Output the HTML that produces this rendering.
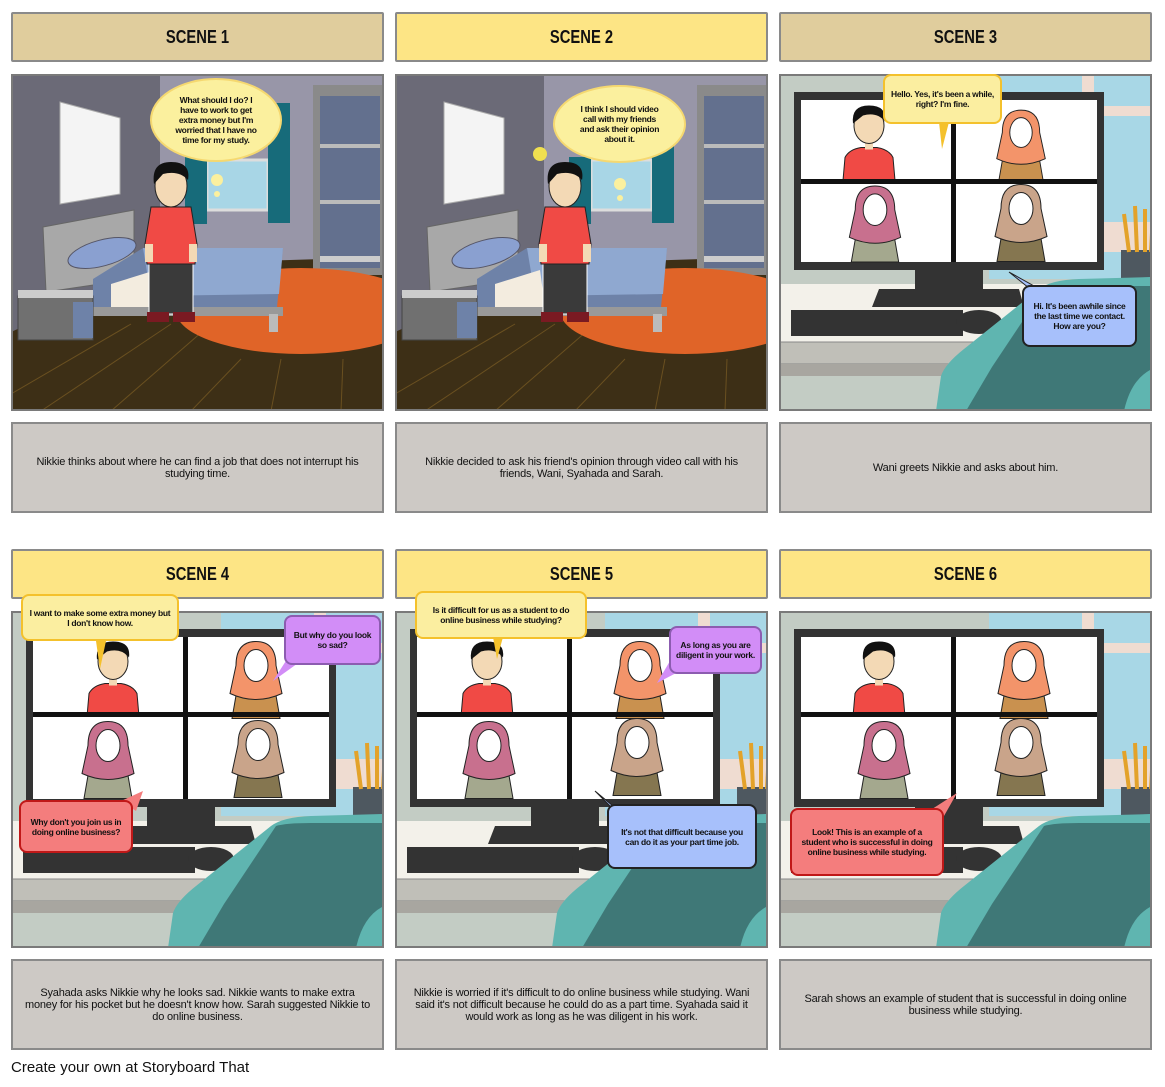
<!DOCTYPE html>
<html><head><meta charset="utf-8">
<style>
*{margin:0;padding:0;box-sizing:border-box}
body{width:1165px;height:1087px;background:#fff;position:relative;overflow:hidden;font-family:"Liberation Sans",sans-serif}
.t{position:absolute;width:373px;height:50px;border:2px solid #8a8a8a;border-radius:2px;display:flex;align-items:center;justify-content:center;font-weight:bold;font-size:18px;color:#111}
.t span{display:inline-block;transform:scaleX(.82)}
.tan{background:#e0cd9d}.yel{background:#fde585}
.p{position:absolute;width:373px;height:337px;border:2px solid #7a7a7a;overflow:hidden}
.p svg{display:block;position:absolute;left:-2px;top:-2px}
.d{position:absolute;width:373px;height:91px;border:2px solid #8a8a8a;background:#cdc9c5;display:flex;align-items:center;justify-content:center;text-align:center;padding:0 12px;font-size:11px;line-height:12px;color:#111;letter-spacing:-0.2px}
.b{position:absolute;display:flex;align-items:center;justify-content:center;text-align:center;font-weight:bold;font-size:8.5px;line-height:10px;color:#111;border-radius:8px;padding:3px 5px;letter-spacing:-0.3px}
.by{background:#fbeea0;border:2px solid #f4c12c}
.bb{background:#a7c0fb;border:2px solid #222}
.bp{background:#d28df7;border:2px solid #8c5cb0}
.br{background:#f47d7d;border:2px solid #c01818}
.cl{background:#fbf09e;border:2px solid #f5d870;border-radius:50%}
.foot{position:absolute;left:11px;top:1059px;font-size:15px;color:#111}
</style></head><body>
<svg width="0" height="0" style="position:absolute">
<defs>
<symbol id="bed" viewBox="0 0 373 337">
<rect width="373" height="337" fill="#3d2f16"/>
<polygon points="149,0 373,0 373,183 149,190" fill="#9896a8"/>
<polygon points="0,0 149,0 149,190 0,258" fill="#6b6a77"/>
<g stroke="#6a5020" stroke-width="1"><line x1="0" y1="320" x2="120" y2="250"/><line x1="30" y1="337" x2="160" y2="250"/><line x1="100" y1="337" x2="200" y2="250"/><line x1="180" y1="337" x2="230" y2="285"/><line x1="260" y1="337" x2="270" y2="285"/><line x1="330" y1="337" x2="332" y2="285"/></g>
<polygon points="49,28 109,44 109,120 49,130" fill="#f4f4f4" stroke="#aaa"/>
<rect x="196" y="86" width="61" height="50" fill="#a8d6e6" stroke="#ddd" stroke-width="3"/>
<rect x="174" y="83" width="22" height="67" fill="#176b7a"/>
<rect x="257" y="29" width="22" height="120" fill="#176b7a"/>
<rect x="302" y="11" width="71" height="190" fill="#8a8a8a"/>
<rect x="309" y="22" width="60" height="172" fill="#63708e"/>
<rect x="309" y="70" width="60" height="4" fill="#bbb"/><rect x="309" y="126" width="60" height="4" fill="#bbb"/><rect x="309" y="182" width="60" height="6" fill="#ccc"/>
<ellipse cx="290" cy="237" rx="125" ry="43" fill="#e06428"/>
<polygon points="32,153 123,136 123,205 35,218" fill="#a8a8a8" stroke="#666"/>
<polygon points="132,174 272,174 266,233 82,233 82,205" fill="#6e82a8"/>
<polygon points="132,174 272,174 268,220 140,222" fill="#8fa8d0"/>
<polygon points="100,210 145,196 150,233 100,233" fill="#f3ecdf"/>
<ellipse cx="91" cy="179" rx="35" ry="13" fill="#8aa0d0" stroke="#556" transform="rotate(-15 91 179)"/>
<rect x="82" y="233" width="190" height="9" fill="#999"/>
<rect x="258" y="240" width="9" height="18" fill="#bbb"/>
<rect x="7" y="222" width="75" height="44" fill="#707070" stroke="#444"/>
<rect x="7" y="216" width="75" height="8" fill="#ccc"/>
<rect x="62" y="228" width="20" height="36" fill="#6e82a8"/>
</symbol>
<symbol id="comp" viewBox="0 0 373 337">
<rect width="373" height="337" fill="#c3ccc4"/>
<rect x="210" y="0" width="163" height="205" fill="#a8d7e6"/>
<rect x="303" y="0" width="12" height="180" fill="#efdcd1"/>
<rect x="315" y="32" width="58" height="10" fill="#efdcd1"/>
<rect x="315" y="148" width="58" height="30" fill="#efdcd1"/>
<rect x="0" y="210" width="373" height="60" fill="#f3f1ea"/>
<rect x="0" y="268" width="373" height="22" fill="#c0bfb8" stroke="#888"/>
<rect x="0" y="290" width="373" height="12" fill="#a8a6a0"/>
<rect x="15" y="18" width="310" height="178" fill="#333"/>
<rect x="22" y="26" width="296" height="162" fill="#fff"/>
<rect x="136" y="195" width="68" height="22" fill="#333"/>
<polygon points="100,215 240,215 245,233 93,233" fill="#333"/>
<rect x="12" y="236" width="172" height="26" fill="#333"/>
<ellipse cx="200" cy="248" rx="23" ry="12" fill="#333"/>
<rect x="342" y="176" width="31" height="30" fill="#4e5860"/>
<g stroke="#e3a22a" stroke-width="4"><line x1="350" y1="178" x2="345" y2="140"/><line x1="358" y1="178" x2="356" y2="132"/><line x1="366" y1="178" x2="366" y2="135"/><line x1="372" y1="178" x2="374" y2="140"/></g>
<path d="M157,337 L162,302 Q166,290 185,275 L260,215 Q272,206 300,205 L373,203 L373,337 Z" fill="#5fb5b0"/>
<path d="M187,337 L213,293 L265,215 Q275,212 300,212 L373,212 L373,337 Z" fill="#3f7877"/>
<path d="M345,337 Q352,305 373,295 L373,337 Z" fill="#5fb5b0"/>
</symbol>
<symbol id="guy" viewBox="-30 0 60 75" overflow="visible">
<path d="M-26,75 L-24,52 Q-20,44 -8,42 L8,42 Q20,44 24,52 L26,75 Z" fill="#f04a45" stroke="#222"/>
<rect x="-4" y="34" width="8" height="10" fill="#f3d9b5"/>
<ellipse cx="0" cy="20" rx="15" ry="18" fill="#f3d9b5" stroke="#222"/>
<path d="M-16,18 Q-18,0 0,0 Q18,0 16,16 Q8,6 -6,10 Z" fill="#111"/>
</symbol>
<symbol id="girl" viewBox="-30 0 60 75" overflow="visible">
<path d="M-24,75 L-20,52 Q-14,46 0,46 Q14,46 20,52 L24,75 Z" fill="var(--b)" stroke="#222"/>
<path d="M-20,22 Q-20,-2 0,-2 Q20,-2 20,22 L26,50 Q0,62 -26,50 Z" fill="var(--h)" stroke="#222"/>
<ellipse cx="0" cy="22" rx="12" ry="16" fill="#fff" stroke="#222"/>
</symbol>
<symbol id="sit" viewBox="0 0 373 337">
<rect x="138" y="190" width="44" height="50" fill="#3a3a3a" stroke="#fff"/>
<rect x="136" y="238" width="22" height="10" fill="#7a1a22"/><rect x="162" y="238" width="22" height="10" fill="#7a1a22"/>
<path d="M140,133 L180,133 L186,170 L184,190 L136,190 L134,170 Z" fill="#f04a45" stroke="#222"/>
<rect x="134" y="170" width="8" height="18" fill="#f3d9b5"/><rect x="178" y="170" width="8" height="18" fill="#f3d9b5"/>
<ellipse cx="160" cy="112" rx="16" ry="21" fill="#f3d9b5" stroke="#222"/>
<path d="M143,110 Q140,88 160,88 Q180,88 177,106 Q168,96 152,100 Z" fill="#111"/>
</symbol>
</defs></svg>

<div class="t tan" style="left:11px;top:12px"><span>SCENE 1</span></div>
<div class="t yel" style="left:395px;top:12px"><span>SCENE 2</span></div>
<div class="t tan" style="left:779px;top:12px"><span>SCENE 3</span></div>
<div class="t yel" style="left:11px;top:549px"><span>SCENE 4</span></div>
<div class="t yel" style="left:395px;top:549px"><span>SCENE 5</span></div>
<div class="t yel" style="left:779px;top:549px"><span>SCENE 6</span></div>

<!-- Scene 1 -->
<div class="p" style="left:11px;top:74px"><svg width="373" height="337" viewBox="0 0 373 337"><use href="#bed"/><use href="#sit"/>
<circle cx="206" cy="106" r="6" fill="#fbf09e"/><circle cx="206" cy="120" r="3" fill="#fbf09e"/></svg></div>
<div class="b cl" style="left:150px;top:78px;width:132px;height:84px;padding:0 18px">What should I do? I have to work to get extra money but I'm worried that I have no time for my study.</div>

<!-- Scene 2 -->
<div class="p" style="left:395px;top:74px"><svg width="373" height="337" viewBox="0 0 373 337"><use href="#bed"/><use href="#sit" x="10"/>
<circle cx="145" cy="80" r="7" fill="#f0e050"/>
<circle cx="225" cy="110" r="6" fill="#fbf09e"/><circle cx="225" cy="124" r="3" fill="#fbf09e"/></svg></div>
<div class="b cl" style="left:553px;top:85px;width:133px;height:78px;padding:0 20px">I think I should video call with my friends and ask their opinion about it.</div>

<!-- Scene 3 -->
<div class="p" style="left:779px;top:74px"><svg width="373" height="337" viewBox="0 0 373 337"><use href="#comp"/>
<use href="#guy" x="60" y="30" width="60" height="78"/>
<use href="#girl" x="212" y="38" width="60" height="70" style="--h:#f3946a;--b:#c9914f"/>
<use href="#girl" x="66" y="114" width="60" height="74" style="--h:#c8708e;--b:#a4a88e"/>
<use href="#girl" x="212" y="112" width="60" height="76" style="--h:#c9a48a;--b:#857650"/>
<rect x="22" y="105" width="296" height="5" fill="#111"/><rect x="172" y="26" width="5" height="162" fill="#111"/>
<polygon points="160,48 170,48 163,75" fill="#f4c12c"/>
<polygon points="230,198 255,212 260,222" fill="#a7c0fb" stroke="#222"/></svg></div>
<div class="b by" style="left:883px;top:74px;width:119px;height:50px">Hello. Yes, it's been a while, right? I'm fine.</div>
<div class="b bb" style="left:1022px;top:285px;width:115px;height:62px">Hi. It's been awhile since the last time we contact. How are you?</div>

<!-- Scene 4 -->
<div class="p" style="left:11px;top:611px"><svg width="373" height="337" viewBox="0 0 373 337"><use href="#comp"/>
<use href="#guy" x="72" y="28" width="60" height="80"/>
<use href="#girl" x="215" y="32" width="60" height="76" style="--h:#f3946a;--b:#c9914f"/>
<use href="#girl" x="67" y="112" width="60" height="76" style="--h:#c8708e;--b:#a4a88e"/>
<use href="#girl" x="217" y="110" width="60" height="78" style="--h:#c9a48a;--b:#857650"/>
<rect x="22" y="101" width="296" height="5" fill="#111"/><rect x="172" y="26" width="5" height="162" fill="#111"/>
<polygon points="85,30 95,30 89,58" fill="#f4c12c"/>
<polygon points="280,42 290,50 262,70" fill="#d28df7"/>
<polygon points="110,190 132,180 125,200" fill="#f47d7d"/></svg></div>
<div class="b by" style="left:21px;top:594px;width:158px;height:47px">I want to make some extra money but I don't know how.</div>
<div class="b bp" style="left:284px;top:615px;width:97px;height:50px">But why do you look so sad?</div>
<div class="b br" style="left:19px;top:800px;width:114px;height:53px">Why don't you join us in doing online business?</div>

<!-- Scene 5 -->
<div class="p" style="left:395px;top:611px"><svg width="373" height="337" viewBox="0 0 373 337"><use href="#comp"/>
<use href="#guy" x="62" y="28" width="60" height="80"/>
<use href="#girl" x="215" y="32" width="60" height="76" style="--h:#f3946a;--b:#c9914f"/>
<use href="#girl" x="64" y="112" width="60" height="76" style="--h:#c8708e;--b:#a4a88e"/>
<use href="#girl" x="212" y="106" width="60" height="82" style="--h:#c9a48a;--b:#857650"/>
<rect x="22" y="101" width="296" height="5" fill="#111"/><rect x="172" y="26" width="5" height="162" fill="#111"/>
<polygon points="98,26 108,26 102,48" fill="#f4c12c"/>
<polygon points="275,50 285,60 262,72" fill="#d28df7"/>
<polygon points="200,180 218,195 225,205" fill="#a7c0fb" stroke="#222"/></svg></div>
<div class="b by" style="left:415px;top:591px;width:172px;height:48px">Is it difficult for us as a student to do online business while studying?</div>
<div class="b bp" style="left:669px;top:626px;width:93px;height:48px">As long as you are diligent in your work.</div>
<div class="b bb" style="left:607px;top:804px;width:150px;height:65px">It's not that difficult because you can do it as your part time job.</div>

<!-- Scene 6 -->
<div class="p" style="left:779px;top:611px"><svg width="373" height="337" viewBox="0 0 373 337"><use href="#comp"/>
<use href="#guy" x="70" y="28" width="60" height="80"/>
<use href="#girl" x="215" y="32" width="60" height="76" style="--h:#f3946a;--b:#c9914f"/>
<use href="#girl" x="75" y="112" width="60" height="76" style="--h:#c8708e;--b:#a4a88e"/>
<use href="#girl" x="212" y="106" width="60" height="82" style="--h:#c9a48a;--b:#857650"/>
<rect x="22" y="101" width="296" height="5" fill="#111"/><rect x="172" y="26" width="5" height="162" fill="#111"/>
<polygon points="150,200 178,182 165,205" fill="#f47d7d"/></svg></div>
<div class="b br" style="left:790px;top:808px;width:154px;height:68px">Look! This is an example of a student who is successful in doing online business while studying.</div>

<div class="d" style="left:11px;top:422px">Nikkie thinks about where he can find a job that does not interrupt his studying time.</div>
<div class="d" style="left:395px;top:422px">Nikkie decided to ask his friend's opinion through video call with his friends, Wani, Syahada and Sarah.</div>
<div class="d" style="left:779px;top:422px">Wani greets Nikkie and asks about him.</div>
<div class="d" style="left:11px;top:959px">Syahada asks Nikkie why he looks sad. Nikkie wants to make extra money for his pocket but he doesn't know how. Sarah suggested Nikkie to do online business.</div>
<div class="d" style="left:395px;top:959px">Nikkie is worried if it's difficult to do online business while studying. Wani said it's not difficult because he could do as a part time. Syahada said it would work as long as he was diligent in his work.</div>
<div class="d" style="left:779px;top:959px">Sarah shows an example of student that is successful in doing online business while studying.</div>

<div class="foot">Create your own at Storyboard That</div>
</body></html>
